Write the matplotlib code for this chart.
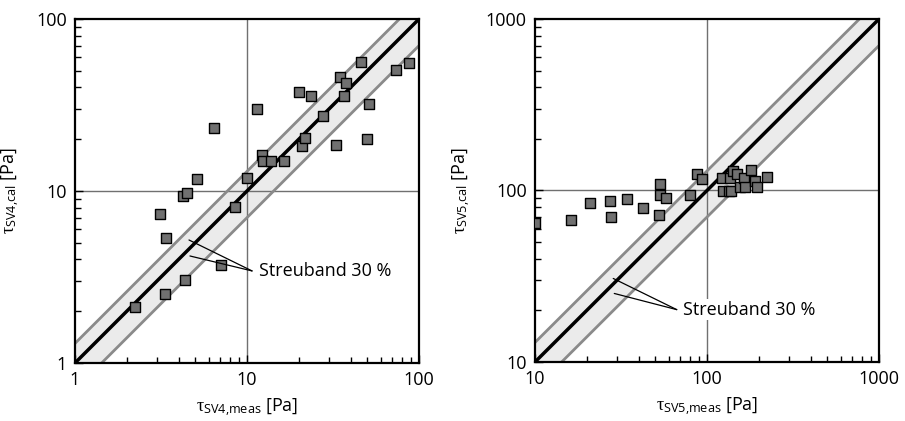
import matplotlib
matplotlib.use("Agg")
import matplotlib.pyplot as plt
import numpy as np

plt.rcParams['font.family'] = ['Open Sans', 'DejaVu Sans']
plt.rcParams['mathtext.fontset'] = 'custom'
plt.rcParams['mathtext.rm'] = 'Liberation Serif'
plt.rcParams['mathtext.sf'] = 'Open Sans'
plt.rcParams['mathtext.it'] = 'Liberation Serif:italic'

# ---- data: left panel (SV4) ----
sv4_meas = [4.23, 4.50, 5.10, 6.45, 9.96, 11.4, 12.3, 12.4, 13.8, 16.4, 20.97, 21.6,
            20.0, 23.6, 27.7, 32.9, 34.7, 37.6, 36.5, 46.0, 51.4, 49.9, 73.8, 87.1,
            3.12, 3.38, 8.48, 7.09, 4.38, 3.32, 2.24]
sv4_cal = [9.35, 9.78, 11.7, 23.3, 11.9, 29.9, 16.2, 14.9, 14.9, 14.9, 18.3, 20.2,
           37.6, 35.5, 27.2, 18.4, 46.0, 42.6, 35.5, 56.0, 32.0, 20.0, 50.5, 55.7,
           7.35, 5.33, 8.04, 3.71, 3.04, 2.51, 2.12]

# ---- data: right panel (SV5) ----
sv5_meas = [10.0, 16.2, 20.9, 27.3, 27.7, 34.1, 42.3, 53.1, 53.1, 57.5, 52.4, 79.3,
            87.9, 93.5, 123, 124, 134, 136, 141, 149, 138, 156, 164, 167, 180, 190,
            196, 223]
sv5_cal = [64.6, 67.6, 84.8, 86.3, 70.0, 89.6, 78.9, 109, 94.0, 90.2, 72.4, 94.0,
           125, 116, 119, 99.1, 99.1, 119, 130, 125, 98.8, 105, 119, 105, 132, 113,
           105, 120]

band_upper = 1.3
band_lower = 0.7
label_text = "Streuband 30 %"

panels = [
    dict(x=sv4_meas, y=sv4_cal, lim=(1, 100), mid=10, ticks=[1, 10, 100],
         xlabel=r'$\mathrm{τ}_{\mathsf{SV4{,}meas}}$ [Pa]',
         ylabel=r'$\mathrm{τ}_{\mathsf{SV4{,}cal}}$ [Pa]',
         ends=[(4.60, 5.19), (4.66, 4.19)], conv=(10.7, 3.43), tx=11.7,
         rect=[75/905, 58/421, 344/905, 344/421], ylx=-0.154),
    dict(x=sv5_meas, y=sv5_cal, lim=(10, 1000), mid=100, ticks=[10, 100, 1000],
         xlabel=r'$\mathrm{τ}_{\mathsf{SV5{,}meas}}$ [Pa]',
         ylabel=r'$\mathrm{τ}_{\mathsf{SV5{,}cal}}$ [Pa]',
         ends=[(28.5, 30.7), (28.9, 25.1)], conv=(66.7, 20.2), tx=72.3,
         rect=[535/905, 59/421, 344/905, 343/421], ylx=-0.18),
]

fig = plt.figure(figsize=(9.05, 4.21), dpi=100)

for p in panels:
    ax = fig.add_axes(p['rect'])
    ax.set_xscale('log')
    ax.set_yscale('log')
    lo, hi = p['lim']
    xs = np.array([lo, hi], dtype=float)
    ax.fill_between(xs, xs * band_lower, xs * band_upper, color='#ebebeb', zorder=1, lw=0)
    ax.plot(xs, xs * band_upper, color='#8a8a8a', lw=2, zorder=2)
    ax.plot(xs, xs * band_lower, color='#8a8a8a', lw=2, zorder=2)
    ax.axvline(p['mid'], color='#707070', lw=1, zorder=1.5)
    ax.axhline(p['mid'], color='#707070', lw=1, zorder=1.5)
    ax.plot(xs, xs, color='black', lw=2.5, zorder=3)
    ax.scatter(p['x'], p['y'], marker='s', s=55, facecolor='#707070',
               edgecolor='black', linewidth=1, zorder=4, clip_on=True)
    for e in p['ends']:
        ax.annotate('', xy=e, xytext=p['conv'],
                    arrowprops=dict(arrowstyle='-', lw=0.9, color='black',
                                    shrinkA=0, shrinkB=0), zorder=5)
    ax.text(p['tx'], p['conv'][1], label_text, va='center', ha='left', fontsize=13,
            bbox=dict(facecolor='white', edgecolor='none', pad=1), zorder=6)
    ax.set_xlim(lo, hi)
    ax.set_ylim(lo, hi)
    ax.set_xticks(p['ticks'])
    ax.set_yticks(p['ticks'])
    ax.set_xticklabels([str(t) for t in p['ticks']])
    ax.set_yticklabels([str(t) for t in p['ticks']])
    ax.tick_params(which='both', direction='in', top=False, right=False,
                   labelsize=13, width=1, pad=6)
    ax.tick_params(which='major', length=6)
    ax.tick_params(which='minor', length=4)
    ax.yaxis.set_minor_formatter(matplotlib.ticker.NullFormatter())
    ax.xaxis.set_minor_formatter(matplotlib.ticker.NullFormatter())
    for s in ax.spines.values():
        s.set_linewidth(1.6)
    ax.set_xlabel(p['xlabel'], fontsize=13)
    ax.set_ylabel(p['ylabel'], fontsize=13)
    ax.xaxis.set_label_coords(0.5, -0.097)
    ax.yaxis.set_label_coords(p['ylx'], 0.5)

fig.savefig('out.png', dpi=100)
